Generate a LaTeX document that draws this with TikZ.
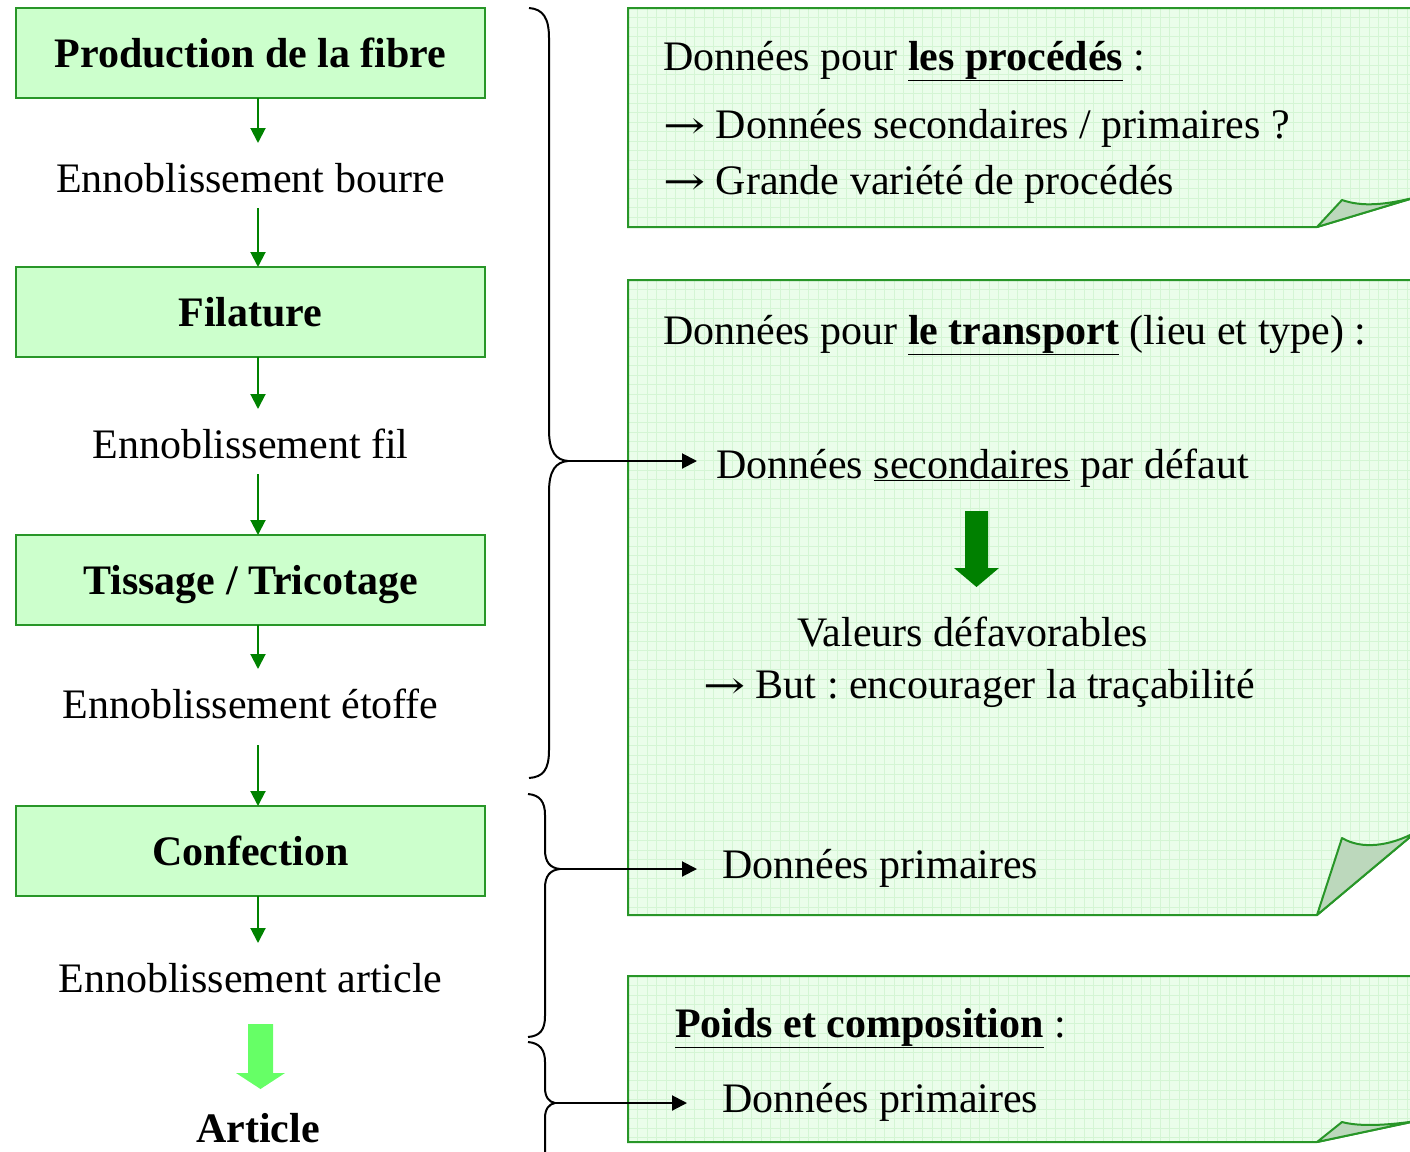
\documentclass[tikz,border=0pt]{standalone}
\usepackage{graphicx}
\usepackage{fontspec}
\setmainfont{Liberation Serif}
\newfontfamily\arrowfont{DejaVu Serif}
\usetikzlibrary{arrows.meta}
\definecolor{boxfill}{RGB}{204,255,204}
\definecolor{boxline}{RGB}{40,150,40}
\definecolor{notefill}{RGB}{234,253,234}
\definecolor{notegrid}{RGB}{212,245,212}
\definecolor{foldfill}{RGB}{188,216,188}
\definecolor{darkarrow}{RGB}{0,128,0}
\definecolor{lightarrow}{RGB}{102,255,102}
\definecolor{smallarrow}{RGB}{0,130,0}
\newcommand{\rarr}{\scalebox{1.2}[0.9]{\arrowfont →}}
\begin{document}
\frenchspacing
\begin{tikzpicture}[x=1pt,y=-1pt,
  every node/.style={font=\fontsize{42}{50}\selectfont},
  stage/.style={draw=boxline, line width=2.5pt, fill=boxfill, minimum width=469pt, minimum height=90pt,
    inner sep=0pt, outer sep=0pt, text height=30pt, text depth=2pt, font=\fontsize{42}{50}\selectfont\bfseries},
  sub/.style={inner sep=0pt, outer sep=0pt, text height=49pt, text depth=16pt, anchor=base},
  flow/.style={draw=smallarrow, line width=2pt, -{Triangle[length=15pt,width=15pt]}},
  link/.style={draw=black, line width=2pt, -{Triangle[length=15pt,width=15pt]}},
  bracepath/.style={draw=black, line width=2pt},
  txt/.style={anchor=base west, inner sep=0pt},
  note/.style={draw=boxline, line width=2pt, line join=miter},
  fold/.style={draw=boxline, line width=2pt, fill=foldfill, line join=round},
  gridline/.style={draw=notegrid, line width=0.6pt}
]
\useasboundingbox (0,0) rectangle (1410,1151);

% ---- left chain ----
\node[stage] (s1) at (250.5,53) {Production de la fibre};
\node[sub] (l1) at (250.5,192) {Ennoblissement bourre};
\node[stage] (s2) at (250.5,312) {Filature};
\node[sub] (l2) at (250.5,458) {Ennoblissement fil};
\node[stage] (s3) at (250.5,580) {Tissage / Tricotage};
\node[sub, text depth=27pt] (l3) at (250.5,718) {Ennoblissement étoffe};
\node[stage] (s4) at (250.5,851) {Confection};
\node[sub] (l4) at (250.5,992) {Ennoblissement article};
\node[anchor=base, inner sep=0pt, font=\fontsize{42}{50}\selectfont\bfseries] (art) at (258,1142) {Article};

\draw[flow] ([xshift=7.5pt]s1.south) -- ([xshift=7.5pt]l1.north);
\draw[flow] ([xshift=7.5pt]l1.south) -- ([xshift=7.5pt]s2.north);
\draw[flow] ([xshift=7.5pt]s2.south) -- ([xshift=7.5pt]l2.north);
\draw[flow] ([xshift=7.5pt]l2.south) -- ([xshift=7.5pt]s3.north);
\draw[flow] ([xshift=7.5pt]s3.south) -- ([xshift=7.5pt]l3.north);
\draw[flow] ([xshift=7.5pt]l3.south) -- ([xshift=7.5pt]s4.north);
\draw[flow] ([xshift=7.5pt]s4.south) -- ([xshift=7.5pt]l4.north);

% big light green arrow
\fill[lightarrow] (248,1024) -- (273,1024) -- (273,1073) -- (285,1073) -- (260.5,1089)
  -- (236,1073) -- (248,1073) -- cycle;

% ---- notes (right) ----
% note A
\begin{scope}
  \clip (628,8) -- (1416,8) -- (1416,197.2) -- (1317,227) -- (628,227) -- cycle;
  \fill[notefill] (620,0) rectangle (1420,240);
  \foreach \gx in {628,637.5,...,1420} \draw[gridline] (\gx,0) -- (\gx,240);
  \foreach \gy in {8,17.5,...,240} \draw[gridline] (620,\gy) -- (1420,\gy);
\end{scope}
\draw[note] (1416,197.2) -- (1317,227) -- (628,227) -- (628,8) -- (1416,8);
\draw[fold] (1317,227) -- (1342,200) .. controls (1362,207) and (1385,205) .. (1416,197.2) -- cycle;

% note B
\begin{scope}
  \clip (628,280) -- (1416,280) -- (1416,832) -- (1317,915) -- (628,915) -- cycle;
  \fill[notefill] (620,270) rectangle (1420,920);
  \foreach \gx in {628,637.5,...,1420} \draw[gridline] (\gx,270) -- (\gx,920);
  \foreach \gy in {280,289.5,...,920} \draw[gridline] (620,\gy) -- (1420,\gy);
\end{scope}
\draw[note] (1416,832) -- (1317,915) -- (628,915) -- (628,280) -- (1416,280);
\draw[fold] (1317,915) -- (1342,838) .. controls (1362,850) and (1390,846) .. (1416,832) -- cycle;

% note C
\begin{scope}
  \clip (628,976) -- (1416,976) -- (1416,1121) -- (1317,1142) -- (628,1142) -- cycle;
  \fill[notefill] (620,970) rectangle (1420,1150);
  \foreach \gx in {628,637.5,...,1420} \draw[gridline] (\gx,970) -- (\gx,1150);
  \foreach \gy in {976,985.5,...,1150} \draw[gridline] (620,\gy) -- (1420,\gy);
\end{scope}
\draw[note] (1416,1121) -- (1317,1142) -- (628,1142) -- (628,976) -- (1416,976);
\draw[fold] (1317,1142) -- (1342,1122) .. controls (1360,1127) and (1390,1125) .. (1416,1121) -- cycle;

% texts in notes
\node[txt] (a1) at (663,70) {Données pour \textbf{\underline{les procédés}} :};
\node[txt] (a2) at (663,138) {\rarr{} Données secondaires / primaires ?};
\node[txt] (a3) at (663,194) {\rarr{} Grande variété de procédés};

\node[txt] (b1) at (663,344) {Données pour \textbf{\underline{le transport}} (lieu et type) :};
\node[txt] (b2) at (716,478) {Données \underline{secondaires} par défaut};
\node[txt] (b3) at (797,646) {Valeurs défavorables};
\node[txt] (b4) at (703,698) {\rarr{} But : encourager la traçabilité};
\node[txt] (b5) at (722,878) {Données primaires};

\node[txt] (c1) at (675,1037) {\textbf{\underline{Poids et composition}} :};
\node[txt] (c2) at (722,1112) {Données primaires};

% dark green arrow
\fill[darkarrow] (965,511) -- (988,511) -- (988,568) -- (999,568) -- (976.5,587) -- (954,568)
  -- (965,568) -- cycle;

% ---- braces ----
\draw[bracepath] (529,8) .. controls (543,9) and (549,18) .. (549,38) -- (549,430)
  .. controls (549,452) and (556,460) .. (568,461)
  .. controls (556,462) and (549,470) .. (549,492) -- (549,750)
  .. controls (549,770) and (543,777) .. (529,778);
\draw[bracepath] (528,794) .. controls (540,795) and (545,802) .. (545,815) -- (545,850)
  .. controls (545,862) and (550,868) .. (560,869)
  .. controls (550,870) and (545,876) .. (545,888) -- (545,1016)
  .. controls (545,1030) and (540,1036) .. (528,1037);
\draw[bracepath] (528,1042) .. controls (540,1043) and (545,1050) .. (545,1062) -- (545,1088)
  .. controls (545,1097) and (549,1102) .. (555,1103)
  .. controls (549,1104) and (545,1109) .. (545,1118) -- (545,1165);

\coordinate (tip1) at (568,461);
\coordinate (tip2) at (560,869);
\coordinate (tip3) at (555,1103);
\coordinate (end1) at (697,461);
\coordinate (end2) at (697,869);
\coordinate (end3) at (687,1103);
\draw[link] (tip1) -- (end1);
\draw[link] (tip2) -- (end2);
\draw[link] (tip3) -- (end3);
\end{tikzpicture}
\end{document}
